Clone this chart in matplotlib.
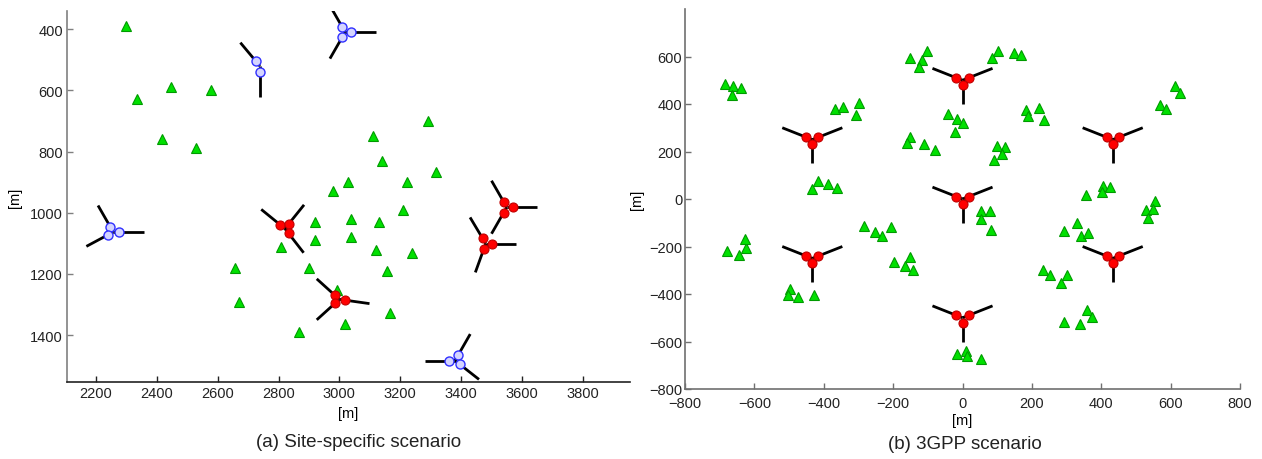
import numpy as np
import matplotlib
matplotlib.use("Agg")
import matplotlib.pyplot as plt

plt.rcParams['font.family'] = ['Liberation Sans', 'DejaVu Sans']

# ---- (a) site-specific scenario ----
# sites: centre x, centre y, sector azimuths (deg, as seen on screen)
red_sites_a_x = [2821, 3000, 3550, 3481]
red_sites_a_y = [1052, 1283, 982, 1101]
red_sites_a_az = [[141, 51, -52], [138, -8, 222], [0, 120, 240], [0, 121, 250]]

blue_sites_a_x = [3019, 2739, 2257, 3380]
blue_sites_a_y = [410, 521, 1063, 1483]
blue_sites_a_az = [[0, 120, 240], [130, 270], [0, 120, 208], [180, 60, -38]]

ue_a_x = [2298, 2335, 2446, 2577, 2418, 2528, 3291, 3110, 3139, 3319,
          3028, 3221, 2978, 3209, 2919, 3039, 3130, 2919, 3039, 3120,
          3238, 2899, 3158, 2991, 3168, 3020, 2867, 2808, 2657, 2669]
ue_a_y = [389, 629, 589, 599, 760, 790, 700, 749, 831, 867,
          900, 900, 929, 990, 1029, 1021, 1029, 1090, 1079, 1121,
          1132, 1182, 1190, 1252, 1329, 1362, 1391, 1111, 1181, 1291]

# ---- (b) 3GPP scenario ----
sites_b_x = [0, 0, 0, 433, 433, -433, -433]
sites_b_y = [0, 500, -500, 250, -250, 250, -250]
sectors_b_az = [30, 150, 270]

ue_b_x = [-685, -661, -640, -664, -369, -345, -299, -306, -152, -118,
          -101, -125, -152, -159, -110, -78, -417, -434, -388, -362,
          102, 85, 148, 168, -41, -15, 1, -21, 183, 189,
          220, 235, 99, 123, 114, 91, 614, 626, 568, 586,
          404, 425, 402, 356, 554, 528, 549, 534, 54, 78,
          52, 83, 331, 293, 341, 363, 233, 252, 301, 284,
          360, 373, 293, 339, -17, 11, 14, 54, -678, -644,
          -625, -627, -498, -504, -475, -427, -284, -253, -232, -207,
          -198, -152, -166, -142]
ue_b_y = [483, 476, 469, 437, 378, 389, 406, 354, 592, 584,
          623, 556, 259, 235, 231, 207, 77, 41, 63, 47,
          623, 594, 613, 606, 357, 336, 322, 283, 374, 350,
          382, 332, 224, 218, 189, 164, 474, 447, 395, 381,
          56, 52, 31, 17, -10, -47, -42, -81, -49, -49,
          -84, -130, -102, -133, -154, -144, -297, -322, -319, -353,
          -466, -495, -516, -525, -654, -642, -661, -672, -220, -234,
          -206, -168, -381, -406, -413, -403, -115, -140, -154, -119,
          -266, -245, -284, -301]

SECTOR_LEN = 100
ANT_OFF = 20

ue_style = dict(ls='none', marker='^', ms=7, mfc='#00e000', mec='#009a00', mew=0.8)
red_style = dict(ls='none', marker='o', ms=6.5, mfc='#ff0000', mec='#c00000', mew=0.8)
blue_style = dict(ls='none', marker='o', ms=6.5, mfc='#d4d4ff', mec='#3030ff', mew=1.0)


def draw_site(ax, cx, cy, azimuths, style, ysign):
    for a in azimuths:
        dx = np.cos(np.radians(a))
        dy = ysign * np.sin(np.radians(a))
        ax.plot([cx, cx + SECTOR_LEN * dx], [cy, cy + SECTOR_LEN * dy],
                color='black', lw=2, solid_capstyle='butt', zorder=2)
    for a in azimuths:
        dx = np.cos(np.radians(a))
        dy = ysign * np.sin(np.radians(a))
        ax.plot(cx + ANT_OFF * dx, cy + ANT_OFF * dy, zorder=3, **style)


def style_axes(ax, left_color, bottom_color):
    for s in ['top', 'right']:
        ax.spines[s].set_visible(False)
    ax.spines['left'].set_color(left_color)
    ax.spines['bottom'].set_color(bottom_color)
    ax.spines['left'].set_linewidth(1.2)
    ax.spines['bottom'].set_linewidth(1.2)
    ax.tick_params(direction='in', length=4, width=1, labelsize=10.5,
                   labelcolor='#222222', pad=3)
    ax.tick_params(axis='y', color=left_color)
    ax.tick_params(axis='x', color=bottom_color)


fig = plt.figure(figsize=(12.62, 4.6), dpi=100)

# panel (a)
ax1 = fig.add_axes([67 / 1262, 77 / 460, 563 / 1262, 371 / 460])
ax1.plot(ue_a_x, ue_a_y, zorder=1, **ue_style)
for cx, cy, az in zip(red_sites_a_x, red_sites_a_y, red_sites_a_az):
    draw_site(ax1, cx, cy, az, red_style, -1)
for cx, cy, az in zip(blue_sites_a_x, blue_sites_a_y, blue_sites_a_az):
    draw_site(ax1, cx, cy, az, blue_style, -1)
ax1.set_xlim(2105, 3955)
ax1.set_ylim(1553, 341)
ax1.set_xticks(np.arange(2200, 3801, 200))
ax1.set_yticks(np.arange(400, 1401, 200))
style_axes(ax1, '#808080', '#222222')
ax1.set_xlabel('[m]', fontsize=10.5, labelpad=4)
ax1.set_ylabel('[m]', fontsize=10.5, labelpad=6)

# panel (b)
ax2 = fig.add_axes([685 / 1262, 70 / 460, 555 / 1262, 380 / 460])
ax2.plot(ue_b_x, ue_b_y, zorder=1, **ue_style)
for cx, cy in zip(sites_b_x, sites_b_y):
    draw_site(ax2, cx, cy, sectors_b_az, red_style, 1)
ax2.set_xlim(-800, 800)
ax2.set_ylim(-800, 800)
ax2.set_xticks(np.arange(-800, 801, 200))
ax2.set_yticks(np.arange(-800, 601, 200))
style_axes(ax2, '#707070', '#707070')
ax2.tick_params(axis='y', pad=2)
ax2.tick_params(axis='x', pad=5)
ax2.set_xlabel('[m]', fontsize=10.5, labelpad=2)
ax2.set_ylabel('[m]', fontsize=10.5, labelpad=4)

fig.text(359 / 1262, 1 - 443 / 460, '(a) Site-specific scenario',
         ha='center', va='center', fontsize=13.5, color='#222222')
fig.text(965 / 1262, 1 - 445 / 460, '(b) 3GPP scenario',
         ha='center', va='center', fontsize=13.5, color='#222222')

fig.savefig('out.png', dpi=100)
